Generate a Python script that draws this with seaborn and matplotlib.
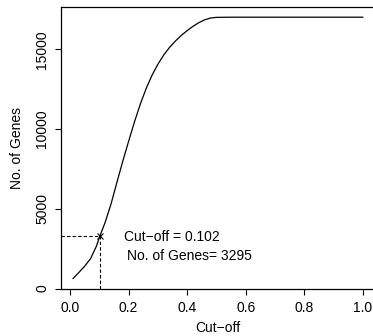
import matplotlib
matplotlib.use("Agg")
import matplotlib.pyplot as plt
import seaborn as sns
import pandas as pd

# cut-off vs number of genes
cutoff = [0.01, 0.03, 0.05, 0.07, 0.09, 0.102, 0.12, 0.14, 0.16, 0.18, 0.20,
          0.22, 0.24, 0.26, 0.28, 0.30, 0.32, 0.34, 0.36, 0.38, 0.40, 0.42,
          0.44, 0.46, 0.48, 0.50, 0.55, 0.60, 0.70, 0.80, 0.90, 1.00]
genes = [620, 1000, 1400, 1870, 2650, 3295, 4150, 5300, 6650, 7980, 9230,
         10450, 11570, 12550, 13380, 14070, 14650, 15130, 15530, 15880, 16180, 16450,
         16680, 16860, 16970, 17010, 17020, 17020, 17020, 17020, 17020, 17020]
sel_cut = 0.102
sel_genes = 3295
yticks = [0, 5000, 10000, 15000]
xticks = [0.0, 0.2, 0.4, 0.6, 0.8, 1.0]

df = pd.DataFrame({"cutoff": cutoff, "genes": genes})

sns.set_style("ticks")
plt.rcParams["font.family"] = ["Liberation Sans", "DejaVu Sans"]
plt.rcParams["text.color"] = "black"
plt.rcParams["axes.labelcolor"] = "black"
plt.rcParams["xtick.color"] = "black"
plt.rcParams["ytick.color"] = "black"

fig = plt.figure(figsize=(3.73, 3.36), dpi=100)
ax = fig.add_axes([61 / 373, 47 / 336, 313.6 / 373, 282 / 336])

sns.lineplot(data=df, x="cutoff", y="genes", ax=ax, color="black", linewidth=0.9)

ax.set_xlim(-0.0307, 1.0396)
ax.set_ylim(-30, 17660)

# guide lines to the chosen cut-off
ax.plot([-0.0307, sel_cut], [sel_genes, sel_genes], color="black", lw=0.8, ls=(0, (3, 2)))
ax.plot([sel_cut, sel_cut], [-30, sel_genes], color="black", lw=0.8, ls=(0, (3, 2)))
ax.plot([sel_cut], [sel_genes], marker="x", color="black", markersize=5, mew=0.8)

ax.text(0.185, 3215, "Cut\u2212off = 0.102", fontsize=10, ha="left", va="center")
ax.text(0.1935, 2024, "No. of Genes= 3295", fontsize=10, ha="left", va="center")

ax.set_xticks(xticks)
ax.set_xticklabels(["0.0", "0.2", "0.4", "0.6", "0.8", "1.0"])
ax.set_yticks(yticks)
ax.set_yticklabels([str(v) for v in yticks], rotation=90, va="center")
ax.tick_params(axis="both", length=4.3, width=0.8, pad=4.2, labelsize=10,
               color="black", labelcolor="black")

ax.set_xlabel("Cut\u2212off", fontsize=10, labelpad=4.5)
ax.set_ylabel("No. of Genes", fontsize=10, labelpad=8)

for s in ax.spines.values():
    s.set_color("black")
    s.set_linewidth(0.9)

fig.savefig("out.png", dpi=100)
